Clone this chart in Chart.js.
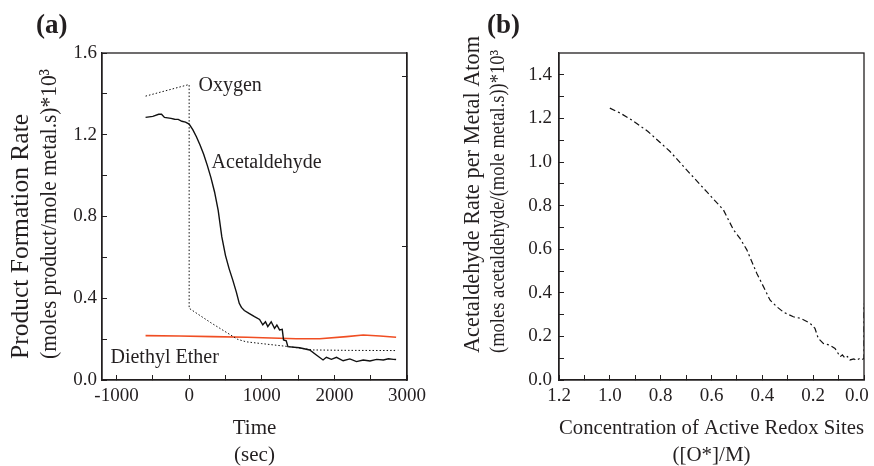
<!DOCTYPE html>
<html>
<head>
<meta charset="utf-8">
<script src="https://cdn.jsdelivr.net/npm/chart.js@4.4.0/dist/chart.umd.min.js"></script>
<style>
  body { margin: 0; background: #fff; }
  #wrap { position: relative; width: 874px; height: 466px; font-family: "Liberation Serif", serif; color: #231f20; }
  .panel { position: absolute; top: 0; width: 437px; height: 466px; }
  .tag { position: absolute; top: 7px; font-weight: bold; font-size: 27px; line-height: 34px; }
</style>
</head>
<body>
<div id="wrap">
  <div class="panel" style="left:0"><canvas id="chartA" width="437" height="466"></canvas></div>
  <div class="panel" style="left:437px"><canvas id="chartB" width="437" height="466"></canvas></div>
  <div class="tag" style="left:36px">(a)</div>
  <div class="tag" style="left:487px">(b)</div>
</div>
<script>
// panel (a): rates vs time
const acetTime = [-600, -500, -420, -380, -340, -250, -200, -150, -100, -50, 0, 50, 100, 150, 200, 250, 300, 350, 400, 450, 500, 550, 600, 650, 690, 720, 760, 830, 900, 970, 1014, 1051, 1083, 1130, 1176, 1208, 1245, 1282, 1300, 1337, 1360, 1520, 1660, 1752, 1844, 1890, 1959, 2029, 2121, 2213, 2305, 2397, 2490, 2582, 2674, 2744, 2813, 2850];
const acetRate = [1.285, 1.29, 1.30, 1.30, 1.285, 1.28, 1.276, 1.275, 1.266, 1.262, 1.252, 1.225, 1.19, 1.15, 1.105, 1.05, 0.99, 0.92, 0.83, 0.70, 0.61, 0.545, 0.49, 0.43, 0.375, 0.355, 0.34, 0.325, 0.31, 0.296, 0.27, 0.285, 0.261, 0.285, 0.253, 0.269, 0.245, 0.248, 0.196, 0.192, 0.163, 0.158, 0.147, 0.122, 0.098, 0.111, 0.101, 0.111, 0.094, 0.103, 0.090, 0.098, 0.093, 0.101, 0.098, 0.104, 0.101, 0.10];

const oxyTime = [-600, -10, 0, 0, 300, 668, 784, 1000, 1383, 1706, 2200, 2850];
const oxyRate = [1.389, 1.445, 1.445, 0.351, 0.28, 0.199, 0.187, 0.178, 0.163, 0.147, 0.145, 0.144];

const etherTime = [-600, -138, 322, 800, 1014, 1475, 1798, 2167, 2397, 2628, 2850];
const etherRate = [0.217, 0.215, 0.212, 0.209, 0.207, 0.202, 0.202, 0.212, 0.22, 0.215, 0.209];

const xTicksA = [-1000, -500, 0, 500, 1000, 1500, 2000, 2500, 3000];
const yTicksA = [0, 0.2, 0.4, 0.6, 0.8, 1.0, 1.2, 1.4, 1.6];
const rightTicksA = [0.652, 1.484];

const notesA = [
  { text: 'Oxygen', x: 129, y: 1.44 },
  { text: 'Acetaldehyde', x: 309, y: 1.062 },
  { text: 'Diethyl Ether', x: -1083, y: 0.108 }
];

// panel (b): acetaldehyde rate vs active redox sites
const concB = [1.0, 0.96, 0.914, 0.85, 0.763, 0.698, 0.619, 0.553, 0.514, 0.488, 0.461, 0.422, 0.389, 0.37, 0.343, 0.315, 0.278, 0.25, 0.225, 0.212, 0.193, 0.18, 0.16, 0.135, 0.114, 0.094, 0.085, 0.075, 0.065, 0.055, 0.04, 0.03, 0.016, 0.005, 0.0, 0.0];
const rateB = [1.247, 1.225, 1.193, 1.14, 1.048, 0.964, 0.864, 0.78, 0.69, 0.65, 0.597, 0.49, 0.413, 0.367, 0.336, 0.31, 0.29, 0.283, 0.268, 0.26, 0.237, 0.191, 0.168, 0.16, 0.145, 0.107, 0.115, 0.1, 0.108, 0.092, 0.097, 0.09, 0.1, 0.095, 0.1, 0.35];

const xTicksB = [0, 0.1, 0.2, 0.3, 0.4, 0.5, 0.6, 0.7, 0.8, 0.9, 1.0, 1.1, 1.2];
const yTicksB = [0, 0.1, 0.2, 0.3, 0.4, 0.5, 0.6, 0.7, 0.8, 0.9, 1.0, 1.1, 1.2, 1.3, 1.4];

const yTitleA = ['Product Formation Rate', '(moles product/mole metal.s)*10³'];
const yTitleB = ['Acetaldehyde Rate per Metal Atom', '(moles acetaldehyde/(mole metal.s))*10³'];

const ink = '#231f20';
const serif = '"Liberation Serif", "Times New Roman", serif';
Chart.defaults.font.family = serif;
Chart.defaults.color = ink;

const pts = (xs, ys) => xs.map((x, i) => ({ x: x, y: ys[i] }));
const setTicks = list => scale => { scale.ticks = list.map(v => ({ value: v })); };

// box round the plot area
const frame = {
  id: 'frame',
  afterDraw(chart) {
    const { ctx, chartArea: a } = chart;
    ctx.save();
    ctx.strokeStyle = ink;
    ctx.lineWidth = 1.3;
    ctx.strokeRect(a.left, a.top, a.right - a.left, a.bottom - a.top);
    ctx.restore();
  }
};

// curve names placed in data units
const notes = {
  id: 'notes',
  afterDatasetsDraw(chart, args, opts) {
    const { ctx, scales } = chart;
    ctx.save();
    ctx.font = '20px ' + serif;
    ctx.fillStyle = ink;
    ctx.textAlign = 'left';
    ctx.textBaseline = 'middle';
    (opts.items || []).forEach(n => {
      ctx.fillText(n.text, scales.x.getPixelForValue(n.x), scales.y.getPixelForValue(n.y));
    });
    ctx.restore();
  }
};

// two-line rotated y title; second line is set condensed like the original
const sideTitle = {
  id: 'sideTitle',
  afterDraw(chart, args, opts) {
    const { ctx } = chart;
    (opts.lines || []).forEach((text, i) => {
      ctx.save();
      ctx.translate(opts.x[i], opts.start);
      ctx.rotate(-Math.PI / 2);
      ctx.font = opts.sizes[i] + 'px ' + serif;
      ctx.fillStyle = ink;
      ctx.textAlign = 'left';
      ctx.textBaseline = 'middle';
      ctx.fillText(text, 0, 0, opts.widths[i]);
      ctx.restore();
    });
  }
};

const tickGrid = { drawOnChartArea: false, tickLength: -5, color: ink, lineWidth: 1 };
const axisBorder = { display: true, color: ink, width: 1.3 };

new Chart(document.getElementById('chartA'), {
  type: 'scatter',
  data: {
    datasets: [
      { label: 'Acetaldehyde', data: pts(acetTime, acetRate), showLine: true, borderColor: '#111', borderWidth: 1.4, pointRadius: 0 },
      { label: 'Oxygen', data: pts(oxyTime, oxyRate), showLine: true, borderColor: '#111', borderWidth: 1, borderDash: [1.5, 2], pointRadius: 0 },
      { label: 'Diethyl Ether', data: pts(etherTime, etherRate), showLine: true, borderColor: '#f04e23', borderWidth: 1.6, pointRadius: 0 }
    ]
  },
  options: {
    responsive: false,
    animation: false,
    layout: { padding: { top: 53, left: 0, right: 0, bottom: 0 } },
    plugins: {
      legend: { display: false }, tooltip: { enabled: false },
      notes: { items: notesA },
      sideTitle: { lines: yTitleA, sizes: [25.5, 24], widths: [260, 290], x: [21, 50], start: 359 }
    },
    scales: {
      x: {
        type: 'linear', min: -1200, max: 3000,
        afterBuildTicks: setTicks(xTicksA),
        afterFit: s => { s.height = 86; s.paddingLeft = 0; s.paddingRight = 0; },
        grid: tickGrid, border: axisBorder,
        ticks: { font: { size: 19 }, padding: 10, maxRotation: 0, autoSkip: false,
          callback: v => (v % 1000 === 0 ? String(v) : '') },
        title: { display: true, text: ['Time', '(sec)'], font: { size: 21, lineHeight: 1.29 }, padding: { top: 0, bottom: -3 } }
      },
      y: {
        min: 0, max: 1.6,
        afterBuildTicks: setTicks(yTicksA),
        afterFit: s => { s.width = 102; },
        grid: tickGrid, border: axisBorder,
        ticks: { font: { size: 19 }, padding: 10, autoSkip: false,
          callback: v => (Math.round(v * 10) % 4 === 0 ? v.toFixed(1) : '') }
      },
      y2: {
        position: 'right', min: 0, max: 1.6,
        afterBuildTicks: setTicks(rightTicksA),
        afterFit: s => { s.width = 30; },
        grid: tickGrid, border: axisBorder,
        ticks: { display: false }
      }
    }
  },
  plugins: [frame, notes, sideTitle]
});

new Chart(document.getElementById('chartB'), {
  type: 'scatter',
  data: {
    datasets: [
      { label: 'Acetaldehyde rate', data: pts(concB, rateB), showLine: true, borderColor: '#111', borderWidth: 1.2, borderDash: [6, 3, 2, 3], pointRadius: 0 }
    ]
  },
  options: {
    responsive: false,
    animation: false,
    layout: { padding: { top: 53, left: 0, right: 10, bottom: 0 } },
    plugins: {
      legend: { display: false }, tooltip: { enabled: false },
      sideTitle: { lines: yTitleB, sizes: [22.3, 22], widths: [330, 303], x: [36, 61], start: 353 }
    },
    scales: {
      x: {
        type: 'linear', min: 0, max: 1.2, reverse: true,
        afterBuildTicks: setTicks(xTicksB),
        afterFit: s => { s.height = 86; s.paddingLeft = 0; s.paddingRight = 0; },
        grid: tickGrid, border: axisBorder,
        ticks: { font: { size: 19 }, padding: 10, maxRotation: 0, autoSkip: false,
          // trailing spaces keep the last label inside the page, as in the original
          callback: v => (Math.round(v * 10) % 2 !== 0 ? '' : (v === 0 ? '0.0   ' : v.toFixed(1))) },
        title: { display: true, text: ['Concentration of Active Redox Sites', '([O*]/M)'], font: { size: 21, lineHeight: 1.29 }, padding: { top: 0, bottom: -3 } }
      },
      y: {
        min: 0, max: 1.5,
        afterBuildTicks: setTicks(yTicksB),
        afterFit: s => { s.width = 122; },
        grid: tickGrid, border: axisBorder,
        ticks: { font: { size: 19 }, padding: 12, autoSkip: false,
          callback: v => (Math.round(v * 10) % 2 === 0 ? v.toFixed(1) : '') }
      }
    }
  },
  plugins: [frame, sideTitle]
});
</script>
</body>
</html>
